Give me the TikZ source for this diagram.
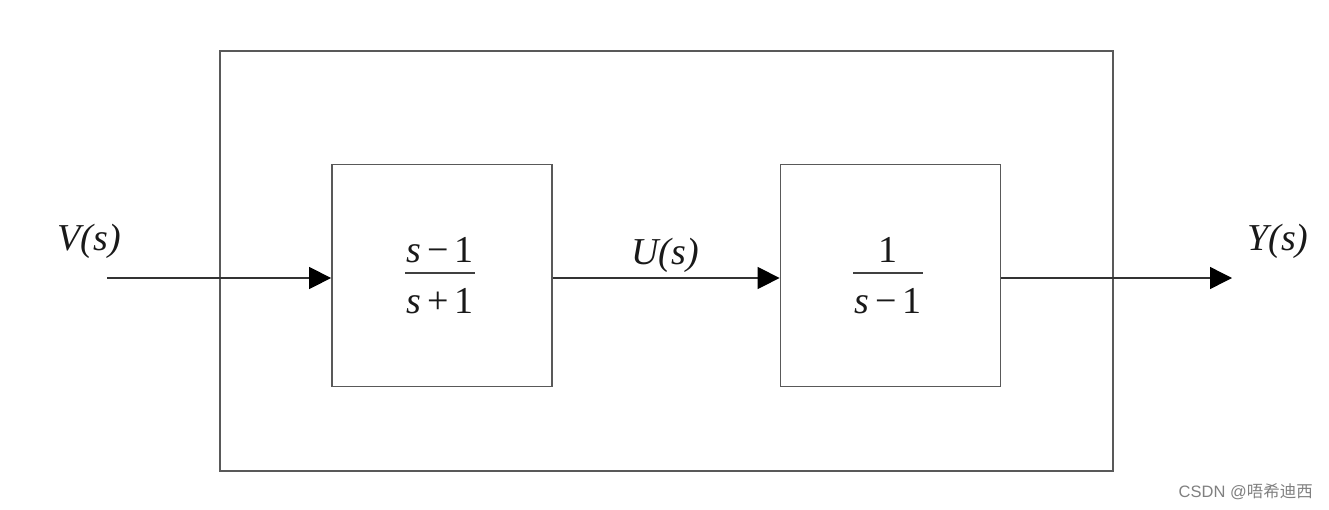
\documentclass[tikz,border=0pt]{standalone}
\usepackage{fontspec}
\setmainfont{Liberation Serif}
\newfontfamily\cjk{Noto Sans CJK SC}
\usetikzlibrary{arrows.meta}
\tikzset{
  ln/.style={draw=black!65, line width=1.8pt},
  blk/.style={ln, minimum width=220pt, minimum height=222pt, inner sep=0pt},
  sig/.style={line width=1.4pt, draw=black!80, -{Triangle[length=22pt, width=22pt, fill=black, color=black]}},
  lbl/.style={font=\fontsize{38}{40}\selectfont\itshape, text=black!90, inner sep=0pt, anchor=base},
  frc/.style={font=\fontsize{38}{40}\selectfont, text=black!90, inner sep=0pt, anchor=base},
  bar/.style={line width=1.8pt, draw=black!75},
}
\begin{document}
\begin{tikzpicture}[x=1pt,y=-1pt]
\useasboundingbox (0,0) rectangle (1329,509);
\node[ln, minimum width=893pt, minimum height=420pt, inner sep=0pt] (outer) at (666.5,261) {};
\node[blk] (g1) at (442,275.5) {};
\node[blk] (g2) at (890.5,275.5) {};
\coordinate (in) at (107,278);
\coordinate (out) at (1232,278);
\draw[sig] (in) -- (g1.west |- in);
\draw[sig] (g1.east |- in) -- (g2.west |- in);
\draw[sig] (g2.east |- in) -- (out);
\node[lbl] (V) at (89,250) {V(s)};
\node[lbl] (U) at (665,264) {U(s)};
\node[lbl] (Y) at (1278,250) {Y(s)};
% fraction 1
\node[frc] (n1) at (440,262) {\textit{s}\,−\,1};
\node[frc] (d1) at (440,313) {\textit{s}\,+\,1};
\coordinate (b1l) at (405,273);
\coordinate (b1r) at (475,273);
\draw[bar] (b1l) -- (b1r);
% fraction 2
\node[frc] (n2) at (888,262) {1};
\node[frc] (d2) at (888,313) {\textit{s}\,−\,1};
\coordinate (b2l) at (853,273);
\coordinate (b2r) at (923,273);
\draw[bar] (b2l) -- (b2r);
\node[font=\fontsize{16.5}{18}\selectfont\sffamily, text=black!50, anchor=base east, inner sep=0pt] (wm) at (1313,497) {\fontspec{Liberation Sans}CSDN @\cjk 唔希迪西};
\end{tikzpicture}
\end{document}
